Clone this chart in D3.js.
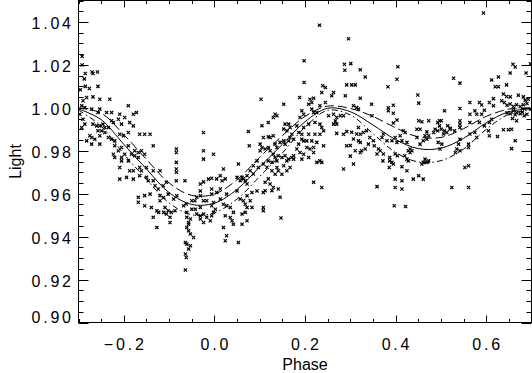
<!DOCTYPE html>
<html>
<head>
<meta charset="utf-8">
<script src="https://cdn.jsdelivr.net/npm/d3@7"></script>
<style>
body { margin: 0; background: #fff; }
svg { display: block; }
text { font-family: "Liberation Sans", Arial, sans-serif; font-size: 16px; fill: #000; }
.tick-label { letter-spacing: 2.8px; }
</style>
</head>
<body>
<script>
// model light curve and its two envelopes, read every 0.05 in phase
var curvePhase = [-0.30, -0.25, -0.20, -0.15, -0.10, -0.05, 0.00, 0.05, 0.10, 0.15, 0.20,
	0.25, 0.30, 0.35, 0.40, 0.45, 0.50, 0.55, 0.60, 0.65, 0.70];
var curveMid = [0.9995, 0.9945, 0.9830, 0.9715, 0.9605, 0.9550, 0.9556, 0.9620, 0.9725, 0.9830, 0.9935,
	0.9998, 0.9982, 0.9920, 0.9852, 0.9810, 0.9812, 0.9858, 0.9930, 0.9982, 0.9995];
var curveUpper = [1.0000, 0.9975, 0.9875, 0.9760, 0.9650, 0.9592, 0.9598, 0.9665, 0.9770, 0.9870, 0.9960,
	1.0008, 0.9997, 0.9960, 0.9907, 0.9865, 0.9862, 0.9903, 0.9960, 0.9994, 1.0000];
var curveLower = [0.9990, 0.9915, 0.9785, 0.9667, 0.9557, 0.9502, 0.9511, 0.9575, 0.9680, 0.9790, 0.9910,
	0.9988, 0.9967, 0.9880, 0.9792, 0.9748, 0.9754, 0.9808, 0.9900, 0.9970, 0.9990];

var xTickLabels = [-0.2, 0.0, 0.2, 0.4, 0.6];
var yTickLabels = [0.90, 0.92, 0.94, 0.96, 0.98, 1.00, 1.02, 1.04];

// observed points [phase, light]
var observations = [
	// early phases, high
	[-0.292,1.024],[-0.292,1.020],[-0.285,1.016],[-0.270,1.0167],[-0.258,1.0167],[-0.268,1.016],
	[-0.287,1.0135],[-0.296,1.0084],[-0.285,1.010],[-0.276,1.009],[-0.257,1.010],
	// descending branch
	[-0.290,1.0033],[-0.282,1.0048],[-0.268,1.0051],[-0.253,1.004],[-0.231,1.004],[-0.293,1.001],
	[-0.286,1.0001],[-0.297,0.997],[-0.271,0.9994],[-0.253,0.9994],[-0.257,0.9978],[-0.238,0.9978],
	[-0.227,0.9978],[-0.190,1.001],[-0.172,0.9978],[-0.179,0.997],[-0.209,0.997],[-0.198,0.9955],
	[-0.212,0.9947],[-0.227,0.994],[-0.290,0.9947],[-0.286,0.9924],[-0.293,0.9908],[-0.268,0.9924],
	[-0.260,0.9916],[-0.253,0.9916],[-0.246,0.9924],[-0.242,0.9908],[-0.234,0.9908],[-0.223,0.9932],
	[-0.205,0.9924],[-0.187,0.9932],[-0.179,0.9916],[-0.257,0.9893],[-0.249,0.9893],[-0.242,0.9885],
	[-0.253,0.987],[-0.275,0.987],[-0.271,0.9862],[-0.282,0.9846],[-0.264,0.9854],[-0.234,0.9862],
	[-0.227,0.9854],[-0.220,0.9846],[-0.209,0.9877],[-0.201,0.987],[-0.190,0.9885],[-0.165,0.9877],
	[-0.154,0.9877],[-0.142,0.9877],[-0.253,0.9831],[-0.271,0.9831],[-0.220,0.9823],[-0.205,0.9815],
	[-0.190,0.9823],[-0.212,0.98],[-0.223,0.9784],[-0.220,0.9769],[-0.205,0.9769],[-0.198,0.9784],
	[-0.183,0.9784],[-0.176,0.98],[-0.168,0.9792],[-0.161,0.98],[-0.135,0.9823],[-0.084,0.9808],
	[-0.084,0.9792],[-0.205,0.9753],[-0.190,0.9753],[-0.176,0.9777],[-0.168,0.9769],[-0.154,0.9784],
	[-0.209,0.9722],[-0.187,0.9707],[-0.179,0.9707],[-0.165,0.9722],[-0.161,0.9707],[-0.150,0.9722],
	[-0.135,0.9707],[-0.120,0.9707],[-0.084,0.9746],[-0.084,0.9715],[-0.084,0.970],[-0.209,0.9668],
	[-0.194,0.9676],[-0.179,0.9668],[-0.165,0.9684],[-0.150,0.9676],[-0.146,0.966],[-0.135,0.966],
	[-0.131,0.9637],[-0.124,0.9622],[-0.113,0.9637],[-0.106,0.9653],[-0.084,0.966],[-0.065,0.966],
	[-0.168,0.9583],[-0.154,0.9591],[-0.142,0.9598],[-0.120,0.9591],[-0.102,0.9598],[-0.120,0.9567],
	[-0.168,0.956],[-0.154,0.9544],[-0.139,0.9536],[-0.109,0.9536],[-0.102,0.9521],[-0.095,0.9513],
	[-0.087,0.9521],[-0.106,0.9505],[-0.098,0.949],[-0.062,0.9552],[-0.050,0.9567],[-0.043,0.9567],
	[-0.039,0.9583],[-0.135,0.949],[-0.061,0.9513],[-0.061,0.949],[-0.053,0.9482],[-0.068,0.9544],
	[-0.050,0.9528],[-0.042,0.9528],[-0.039,0.9505],[-0.090,0.9575],[-0.083,0.959],[-0.112,0.9582],
	[-0.127,0.952],[-0.123,0.9513],[-0.112,0.9513],
	// low scatter near first minimum
	[-0.127,0.9443],[-0.098,0.9466],[-0.057,0.9466],[-0.057,0.9458],[-0.061,0.9443],[-0.057,0.9427],
	[-0.053,0.9412],[-0.046,0.9396],[-0.064,0.9373],[-0.061,0.9365],[-0.053,0.9358],[-0.057,0.9342],
	[-0.064,0.9319],[-0.062,0.9303],[-0.064,0.9245],
	// around phase 0 to 0.12
	[0.103,1.004],[0.105,0.9917],[0.119,0.9932],[0.075,0.989],[-0.024,0.9885],
	[0.108,0.9862],[0.119,0.9865],[0.123,0.9862],[0.101,0.9831],[0.105,0.9815],[0.101,0.980],
	[0.112,0.9808],[0.119,0.9815],[0.077,0.9823],[-0.024,0.980],[-0.024,0.9761],[-0.002,0.9784],
	[-0.031,0.9645],[-0.024,0.9655],[-0.013,0.9668],[-0.006,0.9672],[0.005,0.9669],[0.013,0.9684],
	[0.017,0.966],[0.024,0.9669],[-0.006,0.9622],[0.013,0.9622],[0.020,0.9715],[0.050,0.9676],
	[0.053,0.9738],[0.057,0.9661],[0.061,0.9676],[0.064,0.9669],[0.068,0.966],[0.072,0.9684],
	[0.072,0.9645],[0.079,0.9707],[0.086,0.9692],[0.086,0.973],[0.094,0.9753],[0.097,0.9722],
	[0.108,0.9738],[0.112,0.9653],[0.116,0.9723],[0.119,0.9669],[0.119,0.9753],
	[0.108,0.9606],[0.112,0.9614],[0.108,0.9536],[0.108,0.9521],[0.147,0.9487],
	[-0.031,0.9497],[-0.031,0.9482],[-0.024,0.9505],[-0.017,0.949],[-0.024,0.9466],[-0.009,0.9474],
	[-0.006,0.9497],[-0.002,0.9513],[0.002,0.9528],[-0.006,0.9544],[-0.002,0.9559],[-0.017,0.9567],
	[-0.024,0.9567],[-0.031,0.9536],[-0.031,0.959],[-0.006,0.9598],[0.005,0.9606],[0.013,0.9575],
	[0.020,0.9551],[0.027,0.9544],[0.035,0.9536],[0.042,0.9513],[0.024,0.9497],[0.020,0.9443],
	[0.027,0.9404],[0.024,0.9381],[0.035,0.9489],[0.039,0.9474],[0.042,0.9458],[0.061,0.9505],
	[0.068,0.9513],[0.072,0.9474],[0.053,0.9373],[0.061,0.9458],[0.057,0.9575],[0.064,0.9567],
	[0.068,0.9551],[0.072,0.9536],[0.083,0.9536],[0.079,0.9567],[0.083,0.9606],[0.072,0.959],
	[0.094,0.9613],[0.050,0.9613],[0.027,0.9598],[-0.031,0.9613],
	// rising branch and maximum
	[0.188,1.0048],[0.153,1.0017],[0.211,1.004],[0.219,1.0045],[0.215,1.0025],[0.208,1.0017],
	[0.237,1.0071],[0.259,1.0056],[0.263,1.0071],[0.289,1.0056],[0.245,1.0025],[0.233,1.001],
	[0.193,0.9986],[0.197,0.997],[0.189,0.9955],[0.215,0.9994],[0.219,0.9978],[0.226,0.9978],
	[0.252,0.9963],[0.263,0.997],[0.270,0.9955],[0.278,0.9963],[0.285,0.9963],[0.267,0.9939],
	[0.263,0.9924],[0.270,0.9924],[0.307,1.001],[0.314,1.0001],[0.318,0.9994],[0.134,0.997],
	[0.138,0.9963],[0.130,0.9955],[0.156,0.9924],[0.164,0.9924],[0.167,0.9908],[0.153,0.9901],
	[0.160,0.9893],[0.182,0.9916],[0.186,0.9885],[0.193,0.9877],[0.197,0.9908],[0.208,0.9924],
	[0.222,0.9932],[0.233,0.9924],[0.237,0.9908],[0.233,0.9877],[0.222,0.9877],[0.241,0.9893],
	[0.208,0.9877],[0.193,0.9854],[0.197,0.9846],[0.186,0.9831],[0.182,0.9808],[0.204,0.9846],
	[0.215,0.9846],[0.226,0.9839],[0.270,0.9881],[0.285,0.9877],[0.318,0.9908],[0.322,0.9877],
	[0.322,0.9839],[0.322,0.9792],[0.130,0.987],[0.134,0.9831],[0.138,0.9815],[0.145,0.9839],
	[0.153,0.9846],[0.156,0.9831],[0.164,0.9846],[0.167,0.9862],[0.171,0.9877],[0.175,0.9854],
	[0.123,0.980],[0.130,0.9784],[0.134,0.9769],[0.138,0.9753],[0.127,0.9746],[0.141,0.9777],
	[0.149,0.9769],[0.156,0.9777],[0.160,0.9753],[0.164,0.9761],[0.171,0.9769],[0.175,0.9777],
	[0.153,0.973],[0.138,0.9722],[0.127,0.9707],[0.134,0.9691],[0.149,0.9691],[0.141,0.9707],
	[0.160,0.9707],[0.167,0.9722],[0.175,0.9761],[0.193,0.9761],[0.208,0.9769],[0.197,0.9784],
	[0.189,0.9792],[0.204,0.9815],[0.211,0.9808],[0.219,0.9815],[0.219,0.9792],[0.241,0.9823],
	[0.226,0.9746],[0.233,0.9753],[0.237,0.9746],[0.219,0.9653],[0.237,0.9629],[0.123,0.9645],
	[0.130,0.9629],[0.141,0.9622],[0.127,0.9614],[0.145,0.9583],
	[0.292,0.9823],[0.300,0.9775],[0.307,0.9738],[0.285,0.9715],[0.311,0.980],
	[0.292,0.989],[0.303,0.9886],[0.314,0.9878],[0.307,0.9855],[0.318,0.9846],[0.300,0.9825],
	// high outliers
	[0.198,1.0118],[0.292,1.0107],[0.303,1.0107],[0.311,1.0107],[0.239,1.0103],[0.245,1.0095],
	[0.232,1.0385],[0.296,1.0322],[0.594,1.0442],[0.198,1.0219],[0.287,1.0203],[0.301,1.0206],
	[0.288,1.0175],[0.322,1.0177],[0.405,1.0191],[0.659,1.0203],[0.664,1.019],[0.653,1.0162],
	[0.688,1.0162],[0.698,1.0205],
	// second minimum and return
	[0.333,1.0144],[0.403,1.0133],[0.528,1.0138],[0.542,1.0115],[0.627,1.0144],[0.612,1.013],
	[0.620,1.0098],[0.627,1.0098],[0.645,1.0107],[0.383,1.0098],[0.347,1.0017],[0.449,1.006],
	[0.451,1.0022],[0.395,1.0012],[0.384,1.000],[0.384,0.9986],[0.395,0.9975],[0.403,0.9943],
	[0.395,0.9929],[0.348,0.9963],[0.322,1.0045],
	[0.564,1.0025],[0.542,0.9997],[0.585,1.0025],[0.590,1.0013],[0.607,1.0025],[0.616,1.001],
	[0.616,1.0043],[0.638,1.0064],[0.645,1.0053],[0.653,1.0051],[0.671,1.0059],[0.682,1.0051],
	[0.686,1.0036],[0.693,1.004],[0.634,1.0033],[0.640,1.0025],
	[0.646,1.0012],[0.653,1.0018],[0.660,1.0006],[0.667,1.0014],[0.675,1.0006],[0.682,1.0014],
	[0.690,1.002],[0.660,0.9986],[0.667,0.9977],[0.664,0.9968],[0.653,0.9972],[0.646,0.9977],
	[0.680,0.998],[0.690,0.997],[0.698,0.9995],[0.675,0.9972],[0.684,0.9963],
	[0.658,0.995],[0.667,0.994],[0.656,0.990],[0.649,0.9898],[0.638,0.9898],[0.664,0.9847],
	[0.656,0.981],
	[0.596,0.9989],[0.590,0.997],[0.579,0.997],[0.575,0.9986],[0.564,0.997],[0.585,0.9932],
	[0.596,0.9916],[0.607,0.9932],[0.612,0.9947],[0.605,0.9893],[0.607,0.987],[0.579,0.9862],
	[0.575,0.9885],[0.542,0.994],[0.542,0.9924],[0.542,0.9908],[0.564,0.9932],[0.564,0.9878],
	[0.561,0.9831],[0.542,0.9854],[0.539,0.9831],[0.535,0.9808],[0.542,0.980],[0.532,0.9792],
	[0.561,0.9815],[0.553,0.9722],[0.561,0.973],[0.524,0.9629],[0.561,0.9629],
	[0.520,0.990],[0.508,0.9893],[0.501,0.990],[0.513,0.9885],[0.506,0.9878],[0.497,0.9916],
	[0.497,0.994],[0.501,0.994],[0.508,0.9986],
	[0.493,0.9893],[0.484,0.9885],[0.487,0.990],[0.473,0.994],[0.458,0.9935],[0.451,0.994],
	[0.447,0.990],[0.454,0.990],[0.469,0.9888],[0.465,0.987],[0.469,0.9854],[0.473,0.987],
	[0.494,0.9839],[0.502,0.9831],[0.498,0.9808],[0.447,0.9862],[0.461,0.9847],[0.454,0.9831],
	[0.432,0.9808],[0.428,0.980],[0.436,0.980],[0.432,0.9792],[0.420,0.9777],[0.425,0.9761],
	[0.428,0.9753],[0.425,0.9839],[0.414,0.9847],[0.417,0.9893],[0.421,0.9885],[0.410,0.987],
	[0.465,0.9761],[0.461,0.9746],[0.469,0.9746],[0.473,0.9753],[0.458,0.9738],[0.451,0.9684],
	[0.461,0.9668],[0.425,0.9707],[0.414,0.9726],[0.399,0.9668],[0.414,0.966],[0.439,0.9668],
	[0.399,0.9629],[0.414,0.9622],[0.359,0.9633],[0.387,0.9769],[0.387,0.9753],[0.392,0.9746],
	[0.395,0.9738],[0.386,0.9722],[0.372,0.9753],[0.373,0.9785],[0.399,0.9785],[0.404,0.9777],
	[0.392,0.9847],[0.403,0.9839],[0.399,0.9862],[0.373,0.9878],[0.370,0.9862],[0.381,0.9847],
	[0.336,0.9893],[0.329,0.9885],[0.340,0.9831],[0.333,0.9808],[0.325,0.980],[0.351,0.9847],
	[0.353,0.9823],[0.343,0.9862],[0.362,0.9808],[0.366,0.980],[0.359,0.9785],
	[0.493,0.9932],[0.515,0.9917],[0.521,0.9905],[0.530,0.9893],[0.625,0.9866],
	[0.397,0.9544],[0.422,0.954]
];

var width = 532, height = 373;
var x = d3.scaleLinear().domain([-0.3, 0.7]).range([78.5, 531.5]);
var y = d3.scaleLinear().domain([0.90, 1.05]).range([322.5, 0.5]);
var plotLeft = x.range()[0], plotRight = x.range()[1],
	plotTop = y.range()[1], plotBottom = y.range()[0];

var svg = d3.select('body').append('svg')
	.attr('width', width)
	.attr('height', height);

// points
svg.append('g')
	.selectAll('path')
	.data(observations)
	.join('path')
	.attr('transform', function(d) { return 'translate(' + x(d[0]) + ',' + y(d[1]) + ')'; })
	.attr('d', 'M-1.6,-1.6L1.6,1.6M-1.6,1.6L1.6,-1.6')
	.attr('stroke', '#000')
	.attr('stroke-width', 1.2)
	.attr('fill', 'none');

// model curves
function curveLine(values) {
	return d3.line()
		.x(function(d, i) { return x(curvePhase[i]); })
		.y(function(d) { return y(d); })
		.curve(d3.curveCatmullRom)(values);
}
svg.append('path').attr('d', curveLine(curveMid))
	.attr('fill', 'none').attr('stroke', '#000').attr('stroke-width', 1);
svg.append('path').attr('d', curveLine(curveUpper))
	.attr('fill', 'none').attr('stroke', '#000').attr('stroke-width', 1)
	.attr('stroke-dasharray', '9,4');
svg.append('path').attr('d', curveLine(curveLower))
	.attr('fill', 'none').attr('stroke', '#000').attr('stroke-width', 1)
	.attr('stroke-dasharray', '6,3,1.5,3');

// frame and ticks on all four sides, pointing in
var axes = svg.append('g').attr('stroke', '#000').attr('stroke-width', 1);
axes.append('rect')
	.attr('x', plotLeft).attr('y', plotTop)
	.attr('width', plotRight - plotLeft).attr('height', plotBottom - plotTop)
	.attr('fill', 'none');

function isMajor(v, step) { return Math.abs(v / step - Math.round(v / step)) < 1e-6; }

x.ticks(20).forEach(function(t) {
	var len = isMajor(t, 0.2) ? 7 : 3.5;
	var px = Math.round(x(t)) + 0.5;
	axes.append('line').attr('x1', px).attr('x2', px).attr('y1', plotBottom).attr('y2', plotBottom - len);
	axes.append('line').attr('x1', px).attr('x2', px).attr('y1', plotTop).attr('y2', plotTop + len);
});
y.ticks(30).forEach(function(t) {
	var len = isMajor(t, 0.02) ? 10 : 5;
	var py = Math.round(y(t)) + 0.5;
	axes.append('line').attr('y1', py).attr('y2', py).attr('x1', plotLeft).attr('x2', plotLeft + len);
	axes.append('line').attr('y1', py).attr('y2', py).attr('x1', plotRight).attr('x2', plotRight - len);
});

// tick labels
var fx = d3.format('.1f'), fy = d3.format('.2f');
svg.append('g').selectAll('text')
	.data(xTickLabels)
	.join('text')
	.attr('class', 'tick-label')
	.attr('x', function(d) { return x(d) + 1.4; })
	.attr('y', 349.5)
	.attr('text-anchor', 'middle')
	.text(fx);
svg.append('g').selectAll('text')
	.data(yTickLabels)
	.join('text')
	.attr('class', 'tick-label')
	.attr('x', 73.8)
	.attr('y', function(d) { return Math.min(y(d) + 7.5, plotBottom + 0.5); })
	.attr('text-anchor', 'end')
	.text(fy);

// axis titles
svg.append('text')
	.attr('x', (plotLeft + plotRight) / 2)
	.attr('y', 370)
	.attr('text-anchor', 'middle')
	.text('Phase');
svg.append('text')
	.attr('transform', 'translate(21,' + ((plotTop + plotBottom) / 2) + ') rotate(-90)')
	.attr('text-anchor', 'middle')
	.text('Light');
</script>
</body>
</html>
